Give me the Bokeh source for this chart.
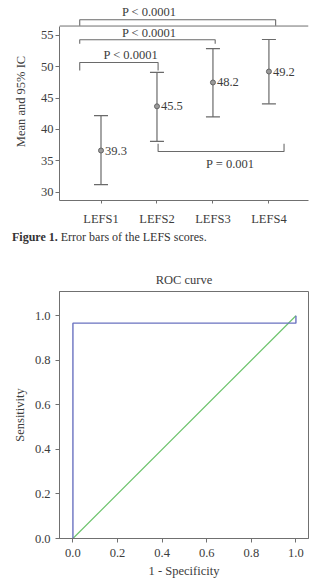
from bokeh.plotting import figure
from bokeh.models import (Range1d, Span, Whisker, TeeHead, ColumnDataSource,
                          FixedTicker, Div, LabelSet, PrintfTickFormatter)
from bokeh.layouts import column
from bokeh.embed import file_html
from bokeh.resources import INLINE
from bokeh.core.properties import value

# ---------------- data: error bar chart ----------------
categories = ["LEFS1", "LEFS2", "LEFS3", "LEFS4"]
cat_pos = [1, 2, 3, 4]
means = [36.65, 43.7, 47.5, 49.25]
lower = [31.2, 38.1, 42.0, 44.1]
upper = [42.2, 49.1, 52.9, 54.35]
mean_labels = ["39.3", "45.5", "48.2", "49.2"]
y_ticks = [30, 35, 40, 45, 50, 55]

# significance brackets
bracket_x0 = [0.62, 0.62, 0.62, 2.02]
bracket_x1 = [4.12, 3.04, 2.02, 4.27]
bracket_y = [57.5, 54.31, 50.69, 36.49]
bracket_leg = [56.54, 53.67, 49.41, 37.72]
bracket_text = ["P < 0.0001", "P < 0.0001", "P < 0.0001", "P = 0.001"]
bracket_text_x = [1.862, 1.862, 1.534, 3.31]
bracket_text_y = [58.71, 55.42, 51.96, 34.53]
box_top = 56.5

# ---------------- data: ROC curve ----------------
fpr = [0.0, 0.0, 1.0, 1.0]
tpr = [0.0, 0.967, 0.967, 1.0]
ref_x = [0.0, 1.0]
ref_y = [0.0, 1.0]
roc_ticks = [0.0, 0.2, 0.4, 0.6, 0.8, 1.0]

FONT = "Liberation Serif"
TXT = "#3c3c3c"
AX = "#707070"
FS = "12.5px"

# ---------------- figure 1 ----------------
p1 = figure(width=311, height=228, output_backend="svg", toolbar_location=None,
            x_range=Range1d(0.2586, 4.707), y_range=Range1d(28.676, 60.255),
            min_border_left=53, min_border_right=0, min_border_top=2,
            min_border_bottom=28)
p1.outline_line_color = None
p1.grid.visible = False
p1.background_fill_color = "white"
p1.border_fill_color = "white"

for ax in (p1.xaxis[0], p1.yaxis[0]):
    ax.axis_line_color = AX
    ax.major_tick_line_color = AX
    ax.minor_tick_line_color = None
    ax.major_tick_in = 0
    ax.major_label_text_font = FONT
    ax.major_label_text_font_size = FS
    ax.major_label_text_color = TXT
    ax.axis_label_text_font = FONT
    ax.axis_label_text_font_size = FS
    ax.axis_label_text_font_style = "normal"
    ax.axis_label_text_color = TXT

p1.xaxis.ticker = FixedTicker(ticks=cat_pos)
p1.xaxis.major_label_overrides = {c: n for c, n in zip(cat_pos, categories)}
p1.xaxis.major_tick_out = 3
p1.xaxis.major_label_standoff = 8

p1.yaxis.ticker = FixedTicker(ticks=y_ticks)
p1.yaxis.major_tick_out = 4
p1.yaxis.major_label_standoff = 2
p1.yaxis.axis_label = "Mean and 95% IC"
p1.yaxis.axis_label_standoff = 10
p1.yaxis.bounds = (28.676, box_top)

p1.add_layout(Span(location=box_top, dimension="width", line_color=AX, line_width=1))

src = ColumnDataSource(dict(x=cat_pos, mean=means, lower=lower, upper=upper, lab=mean_labels))
wh = Whisker(base="x", upper="upper", lower="lower", source=src, line_color="#6a6a6a",
             line_width=1.2,
             upper_head=TeeHead(size=14, line_color="#6a6a6a", line_width=1.2),
             lower_head=TeeHead(size=14, line_color="#6a6a6a", line_width=1.2))
p1.add_layout(wh)
p1.scatter("x", "mean", source=src, size=5, fill_color="#9a9a9a", line_color="#666666",
           line_width=1)
p1.add_layout(LabelSet(x="x", y="mean", text="lab", source=src, x_offset=4,
                       text_baseline="middle", text_font=value(FONT),
                       text_font_size=FS, text_color=TXT))

xs = [[a, a, b, b] for a, b in zip(bracket_x0, bracket_x1)]
ys = [[l, y, y, l] for y, l in zip(bracket_y, bracket_leg)]
p1.multi_line(xs, ys, line_color="#6a6a6a", line_width=1.1)
p1.text(bracket_text_x, bracket_text_y, text=bracket_text, text_align="center",
        text_baseline="middle", text_font=value(FONT), text_font_size=FS,
        text_color=TXT)

# ---------------- caption ----------------
cap = Div(text='<span style="font-family:\'Liberation Serif\';font-size:12px;color:#333;'
               'white-space:nowrap"><b>Figure 1.</b> Error bars of the LEFS scores.</span>',
          width=299, height=20, margin=(0, 0, 0, 12),
          styles={"line-height": "17px", "padding-top": "1px"})

# ---------------- figure 2: ROC ----------------
p2 = figure(width=311, height=335, output_backend="svg", toolbar_location=None,
            x_range=Range1d(-0.0602, 1.0564), y_range=Range1d(0.0, 1.109),
            min_border_left=59, min_border_right=3, min_border_top=43,
            min_border_bottom=45, title="ROC curve")
p2.grid.visible = False
p2.outline_line_color = AX
p2.outline_line_width = 1
p2.title.align = "center"
p2.title.text_font = FONT
p2.title.text_font_size = FS
p2.title.text_font_style = "normal"
p2.title.text_color = TXT
p2.title.standoff = 10

for ax in (p2.xaxis[0], p2.yaxis[0]):
    ax.axis_line_color = AX
    ax.major_tick_line_color = AX
    ax.minor_tick_line_color = None
    ax.major_tick_in = 0
    ax.major_tick_out = 4
    ax.ticker = FixedTicker(ticks=roc_ticks)
    ax.formatter = PrintfTickFormatter(format="%.1f")
    ax.major_label_text_font = FONT
    ax.major_label_text_font_size = FS
    ax.major_label_text_color = TXT
    ax.axis_label_text_font = FONT
    ax.axis_label_text_font_size = FS
    ax.axis_label_text_font_style = "normal"
    ax.axis_label_text_color = TXT

p2.xaxis.axis_label = "1 - Specificity"
p2.xaxis.major_label_standoff = 6
p2.xaxis.axis_label_standoff = 4
p2.yaxis.axis_label = "Sensitivity"
p2.yaxis.major_label_standoff = 5
p2.yaxis.axis_label_standoff = 5

p2.line(ref_x, ref_y, line_color="#6cc36c", line_width=1.2)
p2.line(fpr, tpr, line_color="#6a72c0", line_width=1.4)

layout = column(p1, cap, p2, spacing=0)
open("out.html", "w").write(file_html(layout, INLINE))
